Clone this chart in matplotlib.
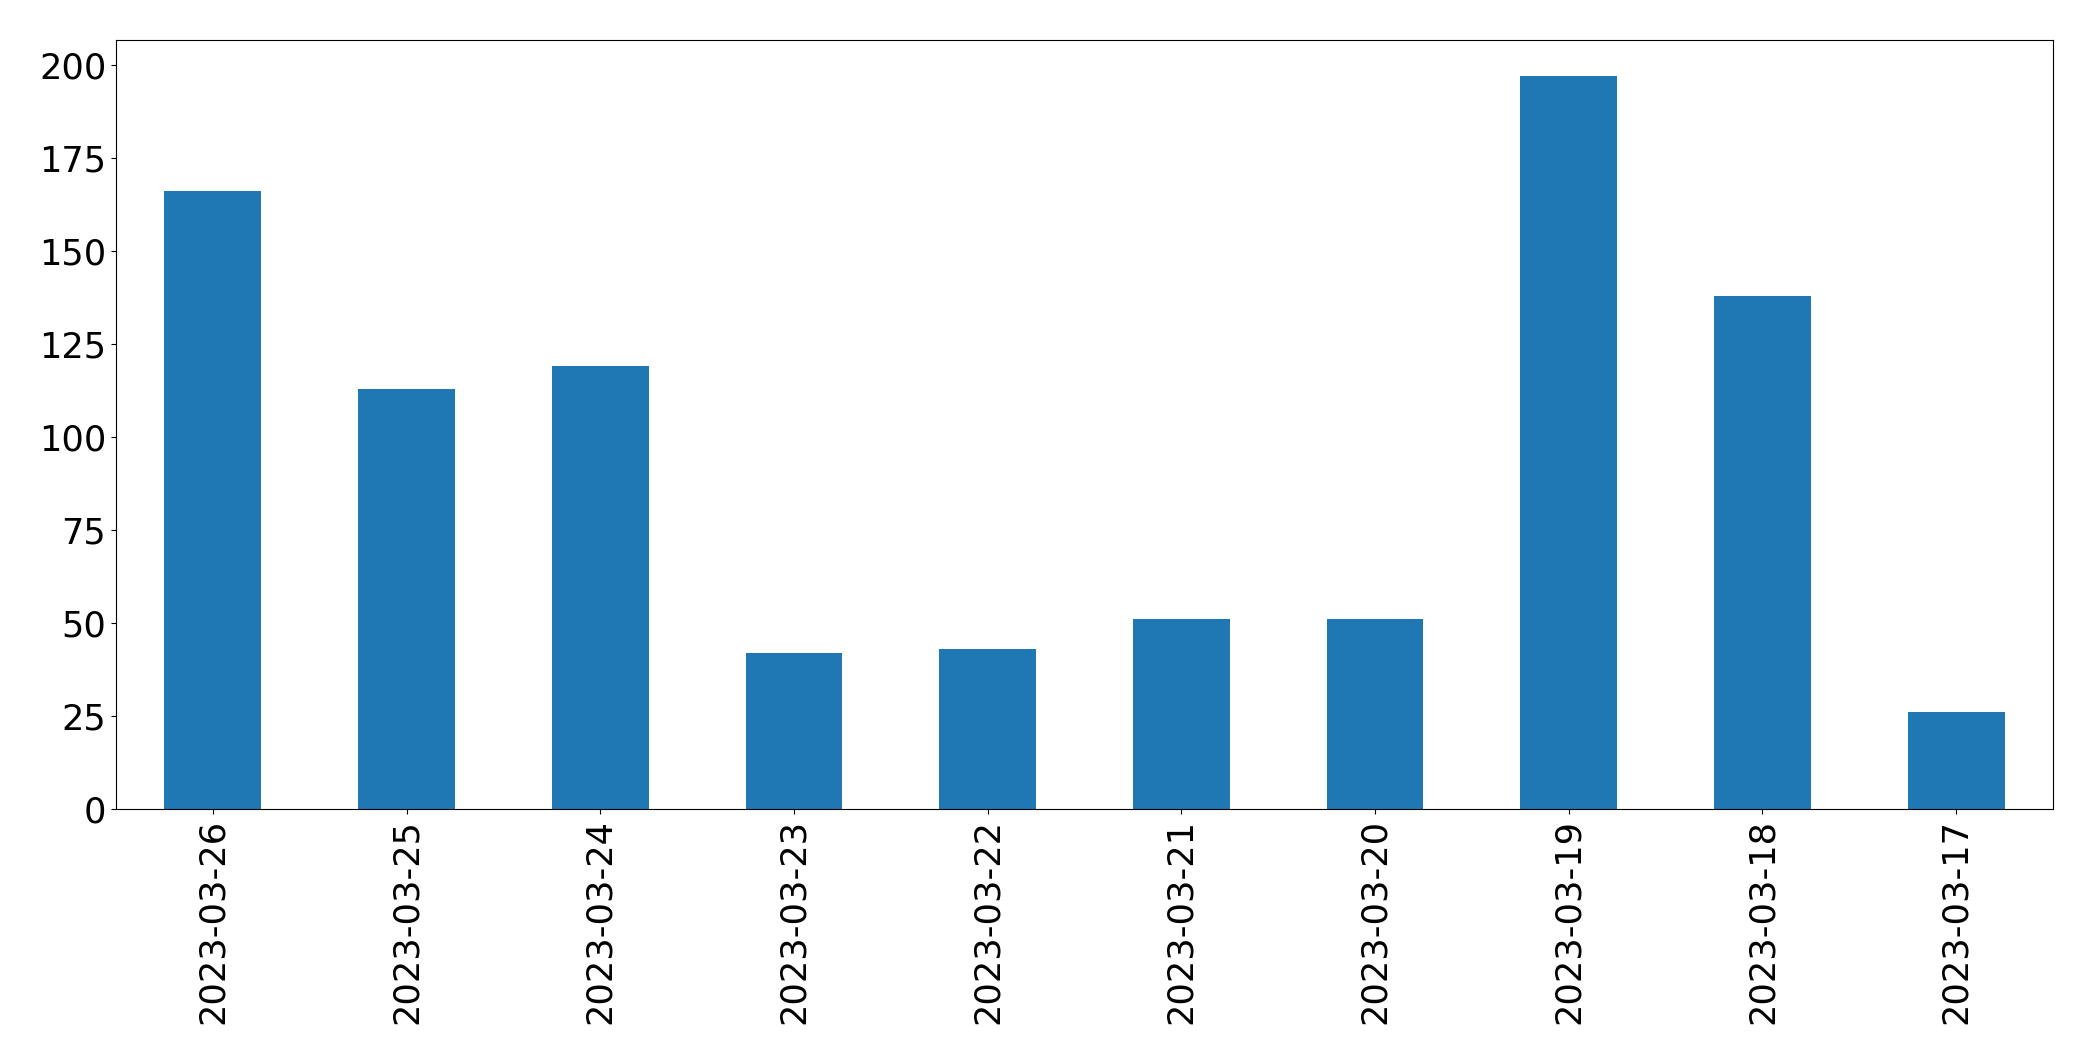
import matplotlib
matplotlib.use("Agg")
import matplotlib.pyplot as plt

dates = ["2023-03-26", "2023-03-25", "2023-03-24", "2023-03-23", "2023-03-22",
         "2023-03-21", "2023-03-20", "2023-03-19", "2023-03-18", "2023-03-17"]
counts = [166, 113, 119, 42, 43, 51, 51, 197, 138, 26]

fig = plt.figure(figsize=(20.93, 10.61), dpi=100)
ax = fig.add_axes([116/2093, 1 - 809/1061, (2053-116)/2093, (809-39.5)/1061])
x = range(len(dates))
ax.bar(x, counts, width=0.5, color="#1f77b4")
ax.set_xticks(list(x))
ax.set_xticklabels(dates, rotation=90, fontsize=25.3)
ax.tick_params(axis="y", labelsize=25.3)
ax.set_xlim(-0.5, len(dates) - 0.5)
fig.savefig("out.png", dpi=100)
